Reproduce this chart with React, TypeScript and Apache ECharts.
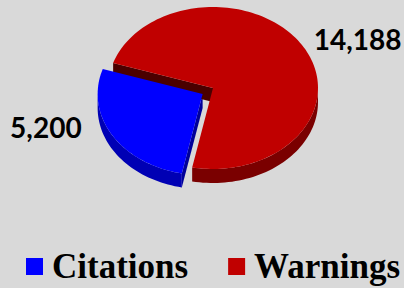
import React, { useEffect, useRef } from 'react';
import * as echarts from 'echarts';

const categories = ['Citations', 'Warnings'];
const values = [5200, 14188];

const topColors = ['#0000ff', '#c00000'];
const rimColors = ['#0000b4', '#7a0000'];
const cutColors = ['#00009a', '#4a0000'];

// layout
const CX = 213;
const CY = 88;
const RX = 105;
const RY = 81;
const DEPTH = 14;
const START_DEG = 162;
const EXPLODE = [12, 0];

const total = values.reduce((a, b) => a + b, 0);

function sliceRange(i: number): [number, number] {
  let a = START_DEG;
  for (let j = 0; j < i; j++) a += (values[j] / total) * 360;
  return [a, a + (values[i] / total) * 360];
}

const rad = (d: number) => (d * Math.PI) / 180;

function buildSlice(i: number) {
  const [a0, a1] = sliceRange(i);
  const mid = (a0 + a1) / 2;
  const ex = EXPLODE[i] * Math.cos(rad(mid));
  const ey = -EXPLODE[i] * Math.sin(rad(mid));
  const cx = CX + ex;
  const cy = CY + ey;
  const pt = (t: number, d = 0) => [cx + RX * Math.cos(rad(t)), cy - RY * Math.sin(rad(t)) + d];
  const arc = (lo: number, hi: number, d = 0) => {
    const n = Math.max(2, Math.ceil((hi - lo) / 2));
    const out: number[][] = [];
    for (let k = 0; k <= n; k++) out.push(pt(lo + ((hi - lo) * k) / n, d));
    return out;
  };
  const children: any[] = [];
  // outer rim (front facing part only)
  for (let k = 0; k < 2; k++) {
    const lo = Math.max(a0, 180 + 360 * k);
    const hi = Math.min(a1, 360 + 360 * k);
    if (lo < hi) {
      const top = arc(lo, hi);
      const bot = arc(lo, hi, DEPTH).reverse();
      children.push({
        type: 'polygon',
        z2: 2,
        shape: { points: top.concat(bot) },
        style: { fill: rimColors[i] },
      });
    }
  }
  // cut faces
  const faces: [number, boolean][] = [
    [a0, Math.cos(rad(a0)) > 0],
    [a1, Math.cos(rad(a1)) < 0],
  ];
  faces.forEach(([a, vis]) => {
    if (!vis) return;
    const p = pt(a);
    children.push({
      type: 'polygon',
      z2: 3,
      shape: { points: [[cx, cy], p, [p[0], p[1] + DEPTH], [cx, cy + DEPTH]] },
      style: { fill: cutColors[i] },
    });
  });
  // top face
  children.push({
    type: 'polygon',
    z2: 10 + i,
    shape: { points: [[cx, cy]].concat(arc(a0, a1)) },
    style: { fill: topColors[i] },
  });
  // label
  const right = Math.cos(rad(mid)) > 0;
  const pm = pt(mid);
  const lx = right ? pm[0] + 10 : cx - RX - 16;
  const ly = pm[1] - 8;
  children.push({
    type: 'text',
    z2: 20,
    x: lx,
    y: ly,
    style: {
      text: values[i].toLocaleString('en-US'),
      fill: '#000000',
      fontFamily: 'Lato',
      fontWeight: 'bold',
      fontSize: 28,
      align: right ? 'left' : 'right',
      verticalAlign: 'middle',
    },
  });
  return { type: 'group', children };
}

export default function App() {
  const ref = useRef<HTMLDivElement>(null);
  useEffect(() => {
    const chart = echarts.init(ref.current!, null, { renderer: 'svg' });
    chart.setOption({
      animation: false,
      backgroundColor: '#d9d9d9',
      legend: {
        data: categories,
        left: 26,
        top: 249,
        padding: 0,
        icon: 'rect',
        itemWidth: 17,
        itemHeight: 17,
        itemGap: 40,
        textStyle: {
          fontFamily: 'Liberation Serif',
          fontWeight: 'bold',
          fontSize: 35,
          color: '#000000',
          padding: [0, 0, 0, 4],
        },
      },
      series: categories.map((name, i) => ({
        type: 'custom',
        name,
        coordinateSystem: 'none',
        silent: true,
        itemStyle: { color: topColors[i] },
        data: [values[i]],
        renderItem: () => buildSlice(i),
      })),
    });
    return () => chart.dispose();
  }, []);
  return (
    <div
      ref={ref}
      style={{ position: 'absolute', left: 0, top: 0, width: 404, height: 288 }}
    />
  );
}
